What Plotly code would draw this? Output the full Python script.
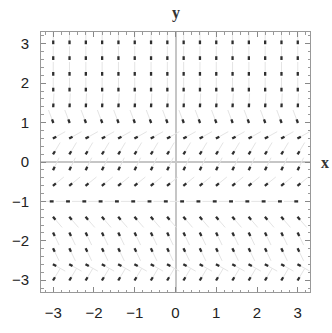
import plotly.graph_objects as go
import numpy as np

# Sample grid of the direction field
x_grid = [-3.0, -2.6, -2.2, -1.8, -1.4, -1.0, -0.6, -0.2,
          0.2, 0.6, 1.0, 1.4, 1.8, 2.2, 2.6, 3.0]
y_grid = [3.0, 2.6, 2.2, 1.8, 1.4, 1.0, 0.6, 0.2,
          -0.2, -0.6, -1.0, -1.4, -1.8, -2.2, -2.6, -3.0]
# Arrow heading per row (degrees, counter-clockwise from +x); field depends on y only
row_heading = [-90, -90, -90, -90, -93, -70, -150, -120,
               -115, -140, 0, 130, 115, 115, 150, -120]

tick_vals = [-3, -2, -1, 0, 1, 2, 3]
tick_text = ["\u22123", "\u22122", "\u22121", "0", "1", "2", "3"]

shaft_len = 0.34   # faint shaft
head_len = 0.085   # dark head segment

hx, hy = [], []
sx, sy = [], []
for yv, th in zip(y_grid, row_heading):
    c, s = np.cos(np.deg2rad(th)), np.sin(np.deg2rad(th))
    for xv in x_grid:
        sx += [xv - shaft_len * c, xv, None]
        sy += [yv - shaft_len * s, yv, None]
        hx += [xv - head_len * c, xv + 0.01 * c, None]
        hy += [yv - head_len * s, yv + 0.01 * s, None]

fig = go.Figure()
fig.add_trace(go.Scatter(x=sx, y=sy, mode="lines",
                         line=dict(color="#e4e4e4", width=1),
                         hoverinfo="skip", showlegend=False))
fig.add_trace(go.Scatter(x=hx, y=hy, mode="lines",
                         line=dict(color="#2e2e2e", width=2.3),
                         hoverinfo="skip", showlegend=False))

axis_common = dict(
    range=[-3.3, 3.3], tickvals=tick_vals, ticktext=tick_text,
    ticks="inside", ticklen=5, tickwidth=1, tickcolor="#888",
    minor=dict(ticks="inside", ticklen=2.5, dtick=0.2, tickcolor="#999"),
    showline=True, linecolor="#999", linewidth=1, mirror="allticks",
    showgrid=False, zeroline=True, zerolinecolor="#c6c6c6", zerolinewidth=2,
    tickfont=dict(family="Liberation Sans", size=15, color="#222"),
)
fig.update_xaxes(**axis_common, ticklabelstandoff=7)
fig.update_yaxes(**axis_common, ticklabelstandoff=8)

fig.add_annotation(x=0, y=1, xref="x", yref="paper", text="<b>y</b>",
                   showarrow=False, yshift=30,
                   font=dict(family="Liberation Serif", size=16, color="#333"))
fig.add_annotation(x=1, y=0, xref="paper", yref="y", text="<b>x</b>",
                   showarrow=False, xshift=21,
                   font=dict(family="Liberation Serif", size=16, color="#333"))

fig.update_layout(width=332, height=333,
                  margin=dict(l=32, r=22, t=32, b=24),
                  plot_bgcolor="white", paper_bgcolor="white")
fig.write_html("out.html")
